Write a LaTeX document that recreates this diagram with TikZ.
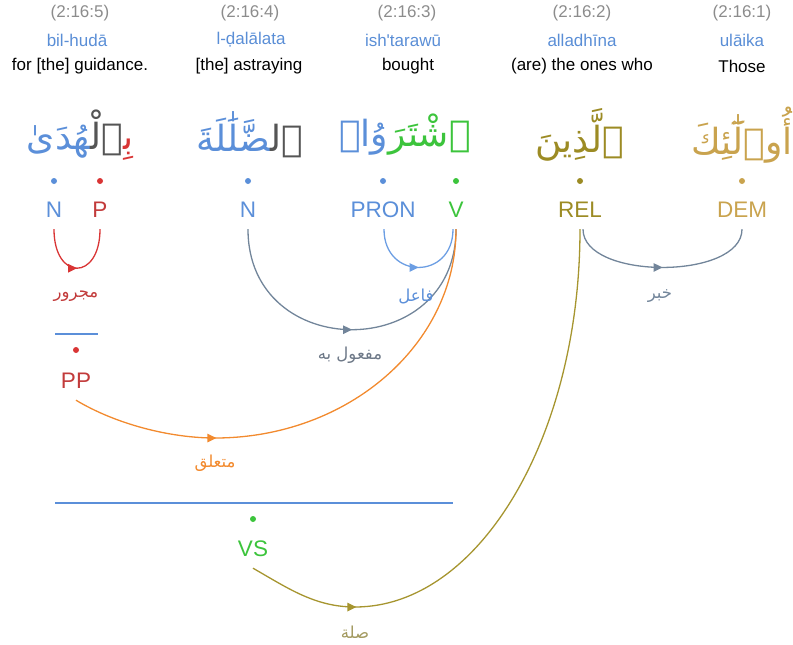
\documentclass[tikz,border=0pt]{standalone}
\usepackage{fontspec}
\setmainfont{Liberation Sans}
\newfontfamily\arabicfont[Script=Arabic]{DejaVu Sans}
\TeXXeTstate=1
\usetikzlibrary{arrows.meta,decorations.markings,calc}

\definecolor{hdrgray}{HTML}{8C8C8C}
\definecolor{trblue}{HTML}{5A8ED6}
\definecolor{nblue}{HTML}{5B8FD9}
\definecolor{pred}{HTML}{C23B3B}
\definecolor{dotred}{HTML}{D93535}
\definecolor{vgreen}{HTML}{3CC43C}
\definecolor{relolive}{HTML}{9C8B24}
\definecolor{demtan}{HTML}{C9A34E}
\definecolor{wgray}{HTML}{555555}
\definecolor{slate}{HTML}{72859A}
\definecolor{slatelbl}{HTML}{6D7887}
\definecolor{lblue}{HTML}{6C9EE3}
\definecolor{arcorange}{HTML}{F28A2E}
\definecolor{arcolive}{HTML}{A6952F}
\definecolor{lblolive}{HTML}{A39A60}

\newcommand\zwj{^^^^200d}
\newcommand\arab[1]{{\arabicfont\beginR #1\endR}}
% one coloured piece of a word; pieces are written left to right
\newcommand\seg[2]{{\color{#1}\arab{#2}}}

\tikzset{
  hdr/.style={font=\fontsize{17}{20}\selectfont, text=hdrgray, inner sep=0pt},
  translit/.style={font=\fontsize{17}{20}\selectfont, text=trblue, inner sep=0pt},
  gloss/.style={font=\fontsize{17}{20}\selectfont, text=black, inner sep=0pt},
  word/.style={font=\arabicfont\fontsize{36}{42}\selectfont, inner sep=0pt},
  tag/.style={font=\fontsize{22.5}{25}\selectfont, text=#1, inner xsep=1pt,
    inner ysep=12pt, text height=16pt, text depth=0pt},
  dot/.style={circle, fill=#1, inner sep=0pt, minimum size=6pt},
  rel/.style={font=\arabicfont\fontsize{16.5}{19}\selectfont, text=#1, inner sep=0pt},
  deparc/.style 2 args={draw=#1, color=#1, line width=1.3pt, postaction={decorate},
    decoration={markings, mark=at position #2 with
      {\arrow{Triangle[length=9pt,width=8.5pt]}}}},
  barline/.style={draw=nblue, line width=1.3pt},
}

\begin{document}
\begin{tikzpicture}[x=1pt,y=-1pt]
\useasboundingbox (0,0) rectangle (793,645);

% verse references
\node[hdr] (h5) at (80,13) {(2:16:5)};
\node[hdr] (h4) at (250,13) {(2:16:4)};
\node[hdr] (h3) at (407,13) {(2:16:3)};
\node[hdr] (h2) at (582,13) {(2:16:2)};
\node[hdr] (h1) at (742,13) {(2:16:1)};

% transliterations
\node[translit] (t5) at (77,40) {bil-hudā};
\node[translit] (t4) at (251,40) {l-ḍalālata};
\node[translit] (t3) at (403,40) {ish\textquotesingle tarawū};
\node[translit] (t2) at (582,40) {alladhīna};
\node[translit] (t1) at (742,40) {ulāika};

% glosses
\node[gloss] (g5) at (80,66) {for [the] guidance.};
\node[gloss] (g4) at (249,66) {[the] astraying};
\node[gloss] (g3) at (408,66) {bought};
\node[gloss] (g2) at (582,66) {(are) the ones who};
\node[gloss] (g1) at (742,66) {Those};

% Arabic words, coloured by morpheme
\node[word] (w5) at (80,135) {\seg{nblue}{\zwj هُدَىٰ}\seg{wgray}{\zwj ٱلْ\zwj}\seg{dotred}{بِ\zwj}};
\node[word] (w4) at (250,135) {\seg{nblue}{\zwj ضَّلَٰلَةَ}\seg{wgray}{ٱل\zwj}};
\node[word] (w3) at (405,135) {\seg{nblue}{وُا۟}\seg{vgreen}{ٱشْتَرَ}};
\node[word, text=relolive] (w2) at (580,135) {\arab{ٱلَّذِينَ}};
\node[word, text=demtan] (w1) at (742,135) {\arab{أُو۟لَٰٓئِكَ}};

% part-of-speech dots
\node[dot=nblue] (dN5) at (54,181) {};
\node[dot=dotred] (dP5) at (100,181) {};
\node[dot=nblue] (dN4) at (248,181) {};
\node[dot=nblue] (dPR) at (383,181) {};
\node[dot=vgreen] (dV) at (456,181) {};
\node[dot=relolive] (dREL) at (580,181) {};
\node[dot=demtan] (dDEM) at (742,181) {};

% part-of-speech tags
\node[tag=nblue] (N5) at (54,209) {N};
\node[tag=pred] (P5) at (100,209) {P};
\node[tag=nblue] (N4) at (248,209) {N};
\node[tag=nblue] (PRON) at (383,209) {PRON};
\node[tag=vgreen] (V) at (456,209) {V};
\node[tag=relolive] (REL) at (580,209) {REL};
\node[tag=demtan] (DEM) at (742,209) {DEM};

% prepositional phrase
\draw[barline] (55,334) -- (98,334);
\node[dot=dotred] (dPP) at (76,350) {};
\node[tag=pred] (PP) at (76,380) {PP};

% verbal sentence
\draw[barline] (55,503) -- (453,503);
\node[dot=vgreen] (dVS) at (253,519) {};
\node[tag=vgreen] (VS) at (253,548) {VS};

% lowest points of the two long arcs
\coordinate (botPP) at (215,438);
\coordinate (botVS) at (355,607);

% dependency arcs
\draw[deparc={dotred}{0.5}] (N5.south) .. controls +(0,52) and +(0,52) .. (P5.south);
\node[rel=pred] (lmaj) at (76,296) {\arab{مجرور}};

\draw[deparc={slate}{0.5}] (N4.south) .. controls +(0,134) and +(0,134) .. (V.south);
\node[rel=slatelbl] (lmaf) at (350,355) {\arab{مفعول به}};

\draw[deparc={lblue}{0.5}] ([xshift=1pt]PRON.south) .. controls +(0,51) and +(0,51) .. ([xshift=-3pt]V.south);
\node[rel=nblue] (lfa) at (416,296) {\arab{فاعل}};

\draw[deparc={arcorange}{147pt}] (PP.south) .. controls +(40,24) and +(-45,0) .. (botPP)
  .. controls +(133,0) and +(0,115) .. (V.south);
\node[rel=arcorange] (lmut) at (215,463) {\arab{متعلق}};

\draw[deparc={arcolive}{112pt}] (VS.south) .. controls +(35,20) and +(-40,0) .. (botVS)
  .. controls +(124,0) and +(0,208) .. (REL.south);
\node[rel=lblolive] (lsil) at (355,632) {\arab{صلة}};

\draw[deparc={slate}{0.5}] ([xshift=3pt]REL.south) .. controls +(0,51) and +(0,51) .. (DEM.south);
\node[rel=slate] (lkha) at (660,296) {\arab{خبر}};

\end{tikzpicture}
\end{document}
